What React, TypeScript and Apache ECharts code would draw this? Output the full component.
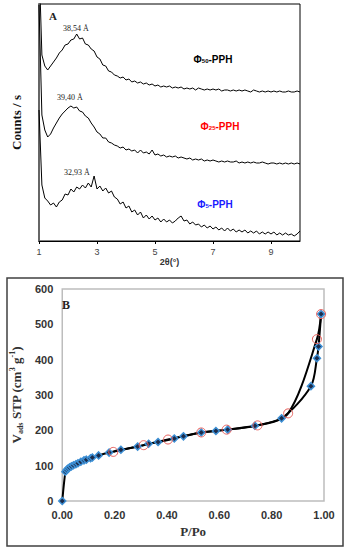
import React, { useEffect, useRef } from 'react';
import * as echarts from 'echarts';

// Panel A: XRD patterns (2θ in degrees, intensity in arbitrary counts)
const twoTheta = [
  1.0, 1.1, 1.2, 1.3, 1.4, 1.5, 1.6, 1.7, 1.8, 1.9,
  2.0, 2.1, 2.2, 2.3, 2.4, 2.5, 2.6, 2.7, 2.8, 2.9,
  3.0, 3.1, 3.2, 3.3, 3.4, 3.5, 3.6, 3.7, 3.8, 3.9,
  4.0, 4.1, 4.2, 4.3, 4.4, 4.5, 4.6, 4.7, 4.8, 4.9,
  5.0, 5.1, 5.2, 5.3, 5.4, 5.5, 5.6, 5.7, 5.8, 5.9,
  6.0, 6.1, 6.2, 6.3, 6.4, 6.5, 6.6, 6.7, 6.8, 6.9,
  7.0, 7.1, 7.2, 7.3, 7.4, 7.5, 7.6, 7.7, 7.8, 7.9,
  8.0, 8.1, 8.2, 8.3, 8.4, 8.5, 8.6, 8.7, 8.8, 8.9,
  9.0, 9.1, 9.2, 9.3, 9.4, 9.5, 9.6, 9.7, 9.8, 9.9, 10.0,
];
const phi50 = [
  281, 186, 175, 171, 175, 179, 183, 188, 191, 196,
  197, 201, 202, 207, 202, 203, 197, 196, 192, 190,
  184, 182, 176, 175, 170, 169, 166, 165, 163, 164,
  161, 162, 159, 160, 158, 159, 157, 158, 156, 157,
  155, 156, 154, 155, 154, 155, 153, 154, 153, 154,
  152, 153, 152, 153, 151, 153, 152, 151, 152, 151,
  152, 151, 152, 150, 151, 151, 150, 151, 150, 151,
  150, 151, 150, 149, 151, 150, 149, 150, 149, 150,
  149, 150, 149, 150, 149, 149, 150, 149, 149, 150, 149,
];
const phi25 = [
  236, 126, 111, 104, 107, 113, 118, 123, 127, 130,
  133, 135, 133, 134, 130, 129, 125, 123, 118, 114,
  109, 107, 103, 103, 99, 98, 96, 95, 93, 94,
  91, 92, 90, 91, 88, 91, 88, 89, 87, 91,
  86, 87, 85, 86, 84, 85, 84, 85, 83, 84,
  83, 82, 83, 81, 82, 81, 82, 80, 81, 80,
  81, 80, 79, 80, 79, 80, 79, 79, 80, 78,
  79, 78, 79, 78, 79, 78, 78, 79, 78, 77,
  78, 78, 77, 78, 77, 78, 77, 78, 77, 78, 77,
];
const phi5 = [
  131, 56, 43, 40, 36, 38, 34, 39, 41, 47,
  46, 52, 49, 54, 52, 56, 53, 58, 54, 65,
  52, 55, 50, 53, 48, 50, 44, 42, 37, 39,
  33, 35, 29, 31, 26, 29, 23, 26, 22, 25,
  21, 23, 19, 22, 19, 21, 18, 20, 23, 25,
  20, 21, 17, 19, 16, 17, 14, 16, 13, 15,
  12, 14, 11, 13, 10, 13, 10, 12, 9, 11,
  9, 11, 8, 10, 8, 10, 7, 9, 7, 9,
  7, 9, 6, 8, 6, 8, 6, 7, 5, 7, 10,
];
const ticksA = [1, 3, 5, 7, 9];

// Panel B: N2 isotherm
const adsX = [0, 0.012, 0.017, 0.022, 0.028, 0.035, 0.043, 0.052, 0.06, 0.071, 0.083, 0.092, 0.108, 0.115, 0.139, 0.179, 0.224, 0.288, 0.33, 0.366, 0.428, 0.463, 0.531, 0.587, 0.632, 0.736, 0.838, 0.95, 0.973, 0.979, 0.989];
const adsY = [0, 83, 88, 92, 95, 98, 101, 104, 107, 111, 115, 117, 121, 123, 129, 137, 145, 154, 162, 167, 177, 183, 194, 198, 202, 213, 234, 325, 404, 437, 529];
const desX = [0.989, 0.973, 0.863, 0.746, 0.628, 0.531, 0.404, 0.311, 0.195];
const desY = [529, 458, 248, 214, 202, 194, 174, 158, 139];

const SERIF = '"Liberation Serif", "Times New Roman", serif';
const SANS = '"Liberation Sans", Arial, sans-serif';

const zip = (xs: number[], ys: number[]) => xs.map((x, i) => [x, ys[i]]);

export default function App() {
  const ref = useRef<HTMLDivElement>(null);
  useEffect(() => {
    document.body.style.margin = '0';
    const chart = echarts.init(ref.current!, null, { renderer: 'svg' });
    const phiLabel = (x: number, y: number, sub: string, color: string) => ({
      type: 'text',
      x,
      y,
      style: {
        text: `{a|Φ}{b|${sub}}{a|-PPH}`,
        fill: color,
        align: 'center',
        verticalAlign: 'middle',
        rich: {
          a: { fontSize: 10, fontWeight: 'bold', fontFamily: SANS, fill: color, lineHeight: 14, verticalAlign: 'bottom' },
          b: { fontSize: 6, fontWeight: 'bold', fontFamily: SANS, fill: color, lineHeight: 12, verticalAlign: 'bottom' },
        },
      },
    });
    const peakLabel = (x: number, y: number, t: string) => ({
      type: 'text',
      x,
      y,
      style: {
        text: `{p|${t}}`,
        fill: '#000',
        align: 'center',
        verticalAlign: 'middle',
        rich: { p: { fontSize: 8, fontFamily: SERIF, fill: '#1a1a1a' } },
      },
    });
    chart.setOption({
      animation: false,
      backgroundColor: '#fff',
      grid: [
        { left: 39, top: 4, width: 261, height: 237, show: true, borderColor: '#000', borderWidth: 1 },
        { left: 56, top: 289, width: 268, height: 212, show: true, borderColor: '#bdbdbd', borderWidth: 1.5 },
      ],
      xAxis: [
        {
          gridIndex: 0,
          type: 'value',
          min: 1,
          max: 10,
          axisLine: { show: true, lineStyle: { color: '#000', width: 1 } },
          axisTick: { show: true, customValues: ticksA, length: 3, lineStyle: { color: '#000' } },
          axisLabel: { customValues: ticksA, fontSize: 9, color: '#444', margin: 6, fontFamily: SANS },
          splitLine: { show: false },
          name: '2θ(°)',
          nameLocation: 'middle',
          nameGap: 16,
          nameTextStyle: { fontSize: 9, fontWeight: 'bold', color: '#333', fontFamily: SANS },
        },
        {
          gridIndex: 1,
          type: 'value',
          min: 0,
          max: 1,
          interval: 0.2,
          axisLine: { show: false },
          axisTick: { show: false },
          splitLine: { show: false },
          axisLabel: {
            formatter: (v: number) => v.toFixed(2),
            fontSize: 11,
            fontWeight: 'bold',
            color: '#333',
            margin: 8,
            fontFamily: SANS,
          },
          name: 'P/Po',
          nameLocation: 'middle',
          nameGap: 24,
          nameTextStyle: { fontSize: 13, fontWeight: 'bold', color: '#333', fontFamily: SERIF },
        },
      ],
      yAxis: [
        {
          gridIndex: 0,
          type: 'value',
          min: 0,
          max: 237,
          axisLine: { show: true, lineStyle: { color: '#666', width: 2 } },
          axisTick: { show: false },
          axisLabel: { show: false },
          splitLine: { show: false },
          name: 'Counts / s',
          nameLocation: 'middle',
          nameGap: 16,
          nameTextStyle: { fontSize: 13, fontWeight: 'bold', color: '#111', fontFamily: SERIF },
        },
        {
          gridIndex: 1,
          type: 'value',
          min: 0,
          max: 600,
          interval: 100,
          axisLine: { show: false },
          axisTick: { show: false },
          splitLine: { show: false },
          axisLabel: { fontSize: 11, fontWeight: 'bold', color: '#333', margin: 9, fontFamily: SANS },
          name: 'V{sub|ads} STP (cm{sup|3} g{sup|-1})',
          nameLocation: 'middle',
          nameGap: 29,
          nameTextStyle: {
            fontSize: 13,
            fontWeight: 'bold',
            color: '#333',
            fontFamily: SERIF,
            lineHeight: 16,
            rich: {
              sub: { fontSize: 8, fontWeight: 'bold', fontFamily: SERIF, color: '#333', verticalAlign: 'bottom', lineHeight: 16 },
              sup: { fontSize: 8, fontWeight: 'bold', fontFamily: SERIF, color: '#333', verticalAlign: 'top', lineHeight: 16 },
            },
          },
        },
      ],
      series: [
        { type: 'line', xAxisIndex: 0, yAxisIndex: 0, data: zip(twoTheta, phi50), showSymbol: false, lineStyle: { color: '#000', width: 1 }, clip: true },
        { type: 'line', xAxisIndex: 0, yAxisIndex: 0, data: zip(twoTheta, phi25), showSymbol: false, lineStyle: { color: '#000', width: 1 }, clip: true },
        { type: 'line', xAxisIndex: 0, yAxisIndex: 0, data: zip(twoTheta, phi5), showSymbol: false, lineStyle: { color: '#000', width: 1 }, clip: true },
        {
          type: 'line',
          xAxisIndex: 1,
          yAxisIndex: 1,
          data: zip(adsX, adsY),
          smooth: 0.3,
          symbol: 'diamond',
          symbolSize: 7,
          lineStyle: { color: '#000', width: 2 },
          itemStyle: { color: '#1c2b4a', borderColor: '#3d8fd4', borderWidth: 1.5 },
        },
        {
          type: 'line',
          xAxisIndex: 1,
          yAxisIndex: 1,
          data: zip(desX, desY),
          smooth: 0.3,
          symbol: 'circle',
          symbolSize: 9,
          lineStyle: { color: '#000', width: 2 },
          itemStyle: { color: 'rgba(0,0,0,0)', borderColor: '#e8605c', borderWidth: 1 },
        },
      ],
      graphic: [
        { type: 'rect', shape: { x: 7, y: 278, width: 336, height: 268 }, style: { fill: 'none', stroke: '#404040', lineWidth: 1.5 } },
        { type: 'text', x: 53, y: 16, style: { text: 'A', fill: '#222', font: `bold 11px ${SERIF}`, align: 'center', verticalAlign: 'middle' } },
        { type: 'text', x: 66, y: 305, style: { text: 'B', fill: '#222', font: `bold 12px ${SERIF}`, align: 'center', verticalAlign: 'middle' } },
        peakLabel(76, 28, '38,54 Å'),
        peakLabel(70, 97, '39,40 Å'),
        peakLabel(77, 172, '32,93 Å'),
        phiLabel(213, 57, '50', '#000'),
        phiLabel(220, 124, '25', '#ff0000'),
        phiLabel(215, 202, '5', '#1a1aff'),
      ],
    });
    return () => chart.dispose();
  }, []);
  return <div ref={ref} style={{ width: 347, height: 550 }} />;
}
